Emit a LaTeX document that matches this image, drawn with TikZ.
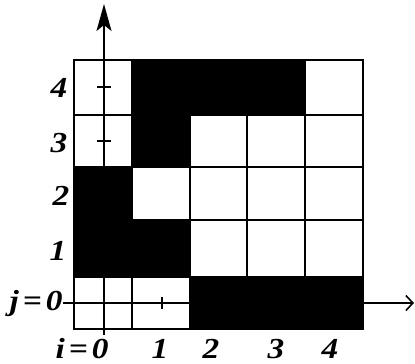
\documentclass[tikz,border=0pt]{standalone}
\usepackage{fontspec}
\usepackage{graphicx}
\setmainfont{Liberation Serif}
\usetikzlibrary{arrows.meta}
\newcommand{\mylbl}[1]{\scalebox{1.15}[1]{\fontsize{29}{29}\selectfont\bfseries\itshape #1}}
\newcommand{\eqsp}{\hspace{0.12em}=\hspace{0.12em}}
\begin{document}
\begin{tikzpicture}[x=1pt,y=-1pt,
  gridline/.style={line width=1.6pt,line cap=rect},
  axisline/.style={line width=1.8pt},
  tickline/.style={line width=1.3pt},
  blackcell/.style={fill=black},
  lbl/.style={inner sep=0pt}]
\useasboundingbox[fill=white] (0,0) rectangle (415,364);
% named axis end points
\coordinate (ystart) at (104,335);
\coordinate (yend) at (104,4);
\coordinate (xstart) at (63,303);
\coordinate (xend) at (414,303);
% axes
\draw[axisline,-{Stealth[length=27pt,width=15pt,inset=6pt]}] (ystart) -- (yend);
\draw[axisline,-{Straight Barb[length=7pt,width=15pt,line width=1.6pt]}] (xstart) -- (xend);
% ticks
\coordinate (t4) at (104,87);
\coordinate (t3) at (104,141);
\coordinate (t1) at (162,303);
\draw[tickline] ([xshift=-7pt]t4) -- ([xshift=7pt]t4);
\draw[tickline] ([xshift=-7pt]t3) -- ([xshift=7pt]t3);
\draw[tickline] ([yshift=-6pt]t1) -- ([yshift=6pt]t1);
% black cells
\fill[blackcell] (132,60) rectangle (305,115);
\fill[blackcell] (132,115) rectangle (190,167);
\fill[blackcell] (74,167) rectangle (132,220);
\fill[blackcell] (74,220) rectangle (190,277);
\fill[blackcell] (190,277) rectangle (363,329);
% grid lines
\foreach \xx in {74,132,190,247,305,363}
  \draw[gridline] (\xx,60) -- (\xx,329);
\foreach \yy in {60,115,167,220,277,329}
  \draw[gridline] (74,\yy) -- (363,\yy);
% row labels
\node[lbl] (r4) at (59,88) {\mylbl{4}};
\node[lbl] (r3) at (59,143) {\mylbl{3}};
\node[lbl] (r2) at (61,196) {\mylbl{2}};
\node[lbl] (r1) at (58,251) {\mylbl{1}};
\node[lbl] (r0) at (36,304) {\mylbl{j\eqsp0}};
% column labels
\node[lbl] (c0) at (82,349) {\mylbl{i\eqsp0}};
\node[lbl] (c1) at (160,349) {\mylbl{1}};
\node[lbl] (c2) at (211,349) {\mylbl{2}};
\node[lbl] (c3) at (276,349) {\mylbl{3}};
\node[lbl] (c4) at (330,349) {\mylbl{4}};
\end{tikzpicture}
\end{document}
